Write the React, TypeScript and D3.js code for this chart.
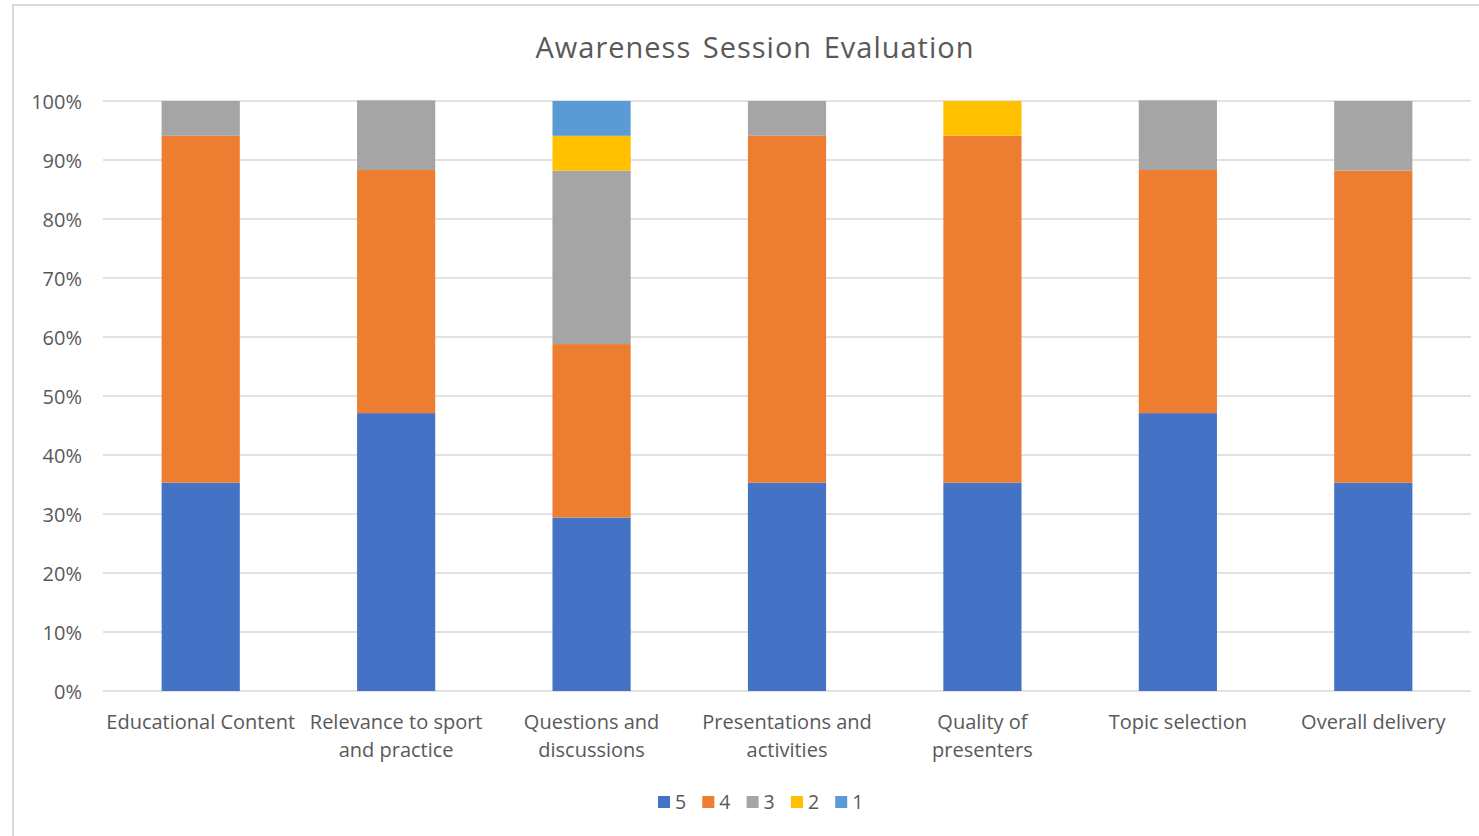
import React from "react";
import * as d3 from "d3";

const categories = [
  ["Educational Content"],
  ["Relevance to sport", "and practice"],
  ["Questions and", "discussions"],
  ["Presentations and", "activities"],
  ["Quality of", "presenters"],
  ["Topic selection"],
  ["Overall delivery"],
];
const seriesNames = ["5", "4", "3", "2", "1"];
const s5 = [35.3, 47.1, 29.4, 35.3, 35.3, 47.1, 35.3];
const s4 = [58.8, 41.2, 29.4, 58.8, 58.8, 41.2, 52.9];
const s3 = [5.9, 11.8, 29.4, 5.9, 0, 11.8, 11.8];
const s2 = [0, 0, 5.9, 0, 5.9, 0, 0];
const s1 = [0, 0, 5.9, 0, 0, 0, 0];
const seriesValues = [s5, s4, s3, s2, s1];
const colors = ["#4472C4", "#ED7D31", "#A5A5A5", "#FFC000", "#5B9BD5"];
const yTicks = [0, 10, 20, 30, 40, 50, 60, 70, 80, 90, 100];

const W = 1479;
const H = 836;
const left = 103;
const right = 1471;
const top = 101;
const bottom = 691;
const font = "'Open Sans', sans-serif";
const textColor = "#595959";

export default function App() {
  const x = d3
    .scaleBand<number>()
    .domain(d3.range(categories.length))
    .range([left, right])
    .paddingInner(0.6)
    .paddingOuter(0.3);
  const y = d3.scaleLinear().domain([0, 100]).range([bottom, top]);

  const rows = categories.map((_, i) => {
    const r: any = { i };
    seriesNames.forEach((n, k) => (r[n] = seriesValues[k][i]));
    return r;
  });
  const stack = d3.stack<any>().keys(seriesNames);
  const layers = stack(rows);

  const legendStart = 658;
  const legendStep = 44.3;

  return (
    <svg
      width={W}
      height={H}
      style={{ position: "absolute", left: 0, top: 0, background: "#fff" }}
    >
      <rect x={0} y={0} width={W} height={H} fill="#fff" />
      <rect x={13} y={5} width={W + 20} height={H + 20} fill="none" stroke="#d9d9d9" strokeWidth={2} />
      <text
        x={755}
        y={58}
        textAnchor="middle"
        fontFamily={font}
        fontSize={29}
        fill={textColor}
        letterSpacing={1}
        wordSpacing={3}
      >
        Awareness Session Evaluation
      </text>
      {yTicks.map((t) => (
        <g key={t}>
          <line x1={left} x2={right} y1={y(t)} y2={y(t)} stroke="#d9d9d9" strokeWidth={1.5} />
          <text
            x={82}
            y={y(t) + 7.5}
            textAnchor="end"
            fontFamily={font}
            fontSize={20}
            fill={textColor}
          >
            {t}%
          </text>
        </g>
      ))}
      {layers.map((layer, k) =>
        layer.map((d, i) =>
          d[1] - d[0] > 0 ? (
            <rect
              key={`${k}-${i}`}
              x={x(i)}
              width={x.bandwidth()}
              y={y(d[1])}
              height={y(d[0]) - y(d[1])}
              fill={colors[k]}
            />
          ) : null
        )
      )}
      {categories.map((lines, i) => (
        <text
          key={i}
          x={(x(i) as number) + x.bandwidth() / 2}
          y={728.5}
          textAnchor="middle"
          fontFamily={font}
          fontSize={20}
          fill={textColor}
        >
          {lines.map((l, j) => (
            <tspan key={j} x={(x(i) as number) + x.bandwidth() / 2} dy={j === 0 ? 0 : 28.5}>
              {l}
            </tspan>
          ))}
        </text>
      ))}
      {seriesNames.map((n, k) => (
        <g key={n} transform={`translate(${legendStart + k * legendStep},796)`}>
          <rect x={0} y={0} width={12} height={12} fill={colors[k]} />
          <text x={17} y={13} fontFamily={font} fontSize={19.5} fill={textColor}>
            {n}
          </text>
        </g>
      ))}
    </svg>
  );
}
